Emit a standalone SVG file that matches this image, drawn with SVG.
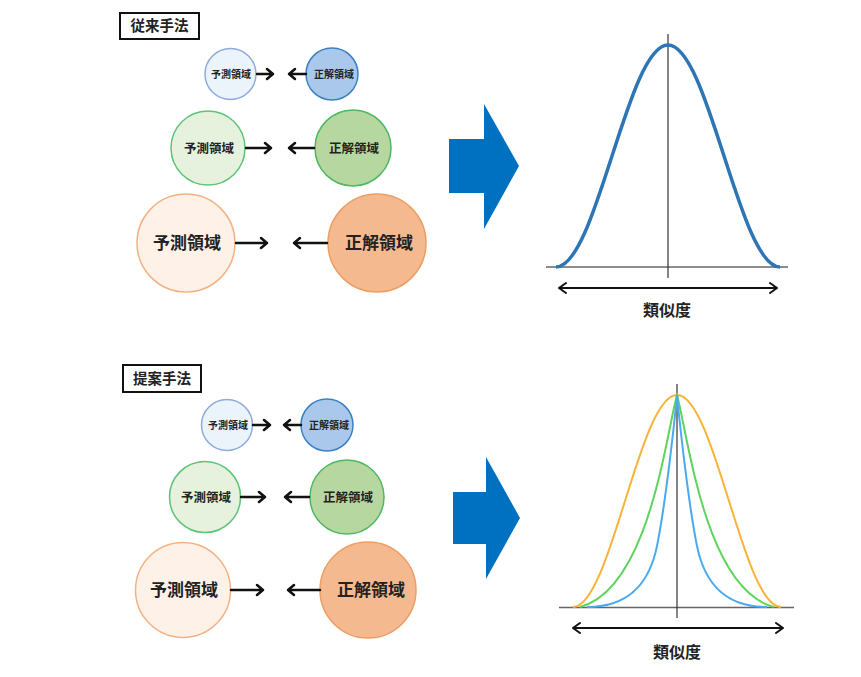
<svg xmlns="http://www.w3.org/2000/svg" width="861" height="677" viewBox="0 0 861 677">
<style>
text{font-family:"Noto Sans CJK JP","Noto Sans CJK SC",sans-serif;font-weight:bold;fill:#222;text-anchor:middle}
.s{font-size:10px}.m{font-size:12.5px}.l{font-size:17px}
.lbl{font-size:14.5px}.ax{font-size:16px}
.c1p{fill:#EBF3FB;stroke:#8EAADB;stroke-width:1.5}
.c1c{fill:#A9C8EB;stroke:#3A82C4;stroke-width:1.5}
.c2p{fill:#E6F2DE;stroke:#5CC476;stroke-width:1.5}
.c2c{fill:#B7D7A1;stroke:#4DB860;stroke-width:1.5}
.c3p{fill:#FEF1E8;stroke:#F4B183;stroke-width:1.5}
.c3c{fill:#F5B990;stroke:#EE9D62;stroke-width:1.5}
.arr{fill:none;stroke:#111;stroke-width:2.5;stroke-linecap:round;stroke-linejoin:round}
.box{fill:#fff;stroke:#111;stroke-width:2}
.big{fill:#0070C0}
.hx{stroke:#666;stroke-width:1.5}
.vx{stroke:#333;stroke-width:1.2}
.dbl{fill:none;stroke:#111;stroke-width:2;stroke-linecap:round;stroke-linejoin:round}
</style>
<rect width="861" height="677" fill="#fff"/>

<g id="label-conventional"><rect class="box" x="120" y="13" width="79" height="26"/><text class="lbl" x="159.5" y="31">従来手法</text></g>
<g id="label-proposed"><rect class="box" x="123" y="365" width="78" height="27"/><text class="lbl" x="162" y="383.5">提案手法</text></g>

<g id="top-pred-s"><circle class="c1p" cx="230.5" cy="74" r="25.5"/><text class="s" x="231" y="77.5">予測領域</text></g>
<g id="top-true-s"><circle class="c1c" cx="332" cy="74" r="26"/><text class="s" x="334" y="77.5">正解領域</text></g>
<g id="top-pred-m"><circle class="c2p" cx="208" cy="148" r="37"/><text class="m" x="209" y="152.5">予測領域</text></g>
<g id="top-true-m"><circle class="c2c" cx="353" cy="148" r="38"/><text class="m" x="354" y="152.5">正解領域</text></g>
<g id="top-pred-l"><circle class="c3p" cx="186" cy="243" r="49"/><text class="l" x="187" y="249">予測領域</text></g>
<g id="top-true-l"><circle class="c3c" cx="377" cy="243" r="49"/><text class="l" x="379" y="249">正解領域</text></g>

<g id="bot-pred-s"><circle class="c1p" cx="227" cy="425" r="25.5"/><text class="s" x="228" y="428.5">予測領域</text></g>
<g id="bot-true-s"><circle class="c1c" cx="327" cy="425" r="26"/><text class="s" x="329" y="428.5">正解領域</text></g>
<g id="bot-pred-m"><circle class="c2p" cx="205" cy="497" r="35.5"/><text class="m" x="206" y="501.5">予測領域</text></g>
<g id="bot-true-m"><circle class="c2c" cx="347" cy="497" r="37"/><text class="m" x="348" y="501.5">正解領域</text></g>
<g id="bot-pred-l"><circle class="c3p" cx="183" cy="590" r="47.5"/><text class="l" x="184" y="596">予測領域</text></g>
<g id="bot-true-l"><circle class="c3c" cx="368" cy="590" r="48"/><text class="l" x="371" y="596">正解領域</text></g>

<g id="connectors">
<path class="arr" d="M257 74H273M267 69L273 74L267 79"/>
<path class="arr" d="M306 74H289M295 69L289 74L295 79"/>
<path class="arr" d="M246 148H271M265 143L271 148L265 153"/>
<path class="arr" d="M314 148H289M295 143L289 148L295 153"/>
<path class="arr" d="M236 243H267M261 238L267 243L261 248"/>
<path class="arr" d="M327 243H294M300 238L294 243L300 248"/>
<path class="arr" d="M253 425H270M264 420L270 425L264 430"/>
<path class="arr" d="M301 425H284M290 420L284 425L290 430"/>
<path class="arr" d="M241 497H265M259 492L265 497L259 502"/>
<path class="arr" d="M309 497H285M291 492L285 497L291 502"/>
<path class="arr" d="M231 590H263M257 585L263 590L257 595"/>
<path class="arr" d="M320 590H288M294 585L288 590L294 595"/>
</g>

<g id="big-arrow-top"><polygon class="big" points="449,139 484,139 484,104 519,166 484,229 484,193 449,193"/></g>
<g id="big-arrow-bot"><polygon class="big" points="453,492 486,492 486,457 520,518 486,579 486,544 453,544"/></g>

<g id="chart-top">
<line class="hx" x1="546" y1="267" x2="788" y2="267"/>
<line class="vx" x1="668" y1="34" x2="668" y2="278"/>
<path d="M556 267C596.7 267 627.3 45 668 45C708.7 45 739.3 267 780 267" fill="none" stroke="#2E75B6" stroke-width="3.5"/>
<path class="dbl" d="M559 288H777M566 283L559 288L566 293M770 283L777 288L770 293"/>
<text class="ax" x="667" y="316">類似度</text>
</g>

<g id="chart-bot">
<line class="hx" x1="559" y1="607.5" x2="794" y2="607.5"/>
<line class="vx" x1="677" y1="384" x2="677" y2="618"/>
<path d="M573 607C610.8 607 639.2 395 677 395C714.8 395 743.2 607 781 607" fill="none" stroke="#F7B338" stroke-width="2"/>
<path d="M580 607C649 589 666 435 677 395C688 435 705 589 774 607" fill="none" stroke="#5ED35E" stroke-width="2"/>
<path d="M587 607C632 607 650 580 657 546C665 507 674 427 677 395C680 427 689 507 697 546C704 580 722 607 767 607" fill="none" stroke="#4BA9F0" stroke-width="2"/>
<path class="dbl" d="M573 628H783M580 623L573 628L580 633M776 623L783 628L776 633"/>
<text class="ax" x="677" y="658">類似度</text>
</g>
</svg>
